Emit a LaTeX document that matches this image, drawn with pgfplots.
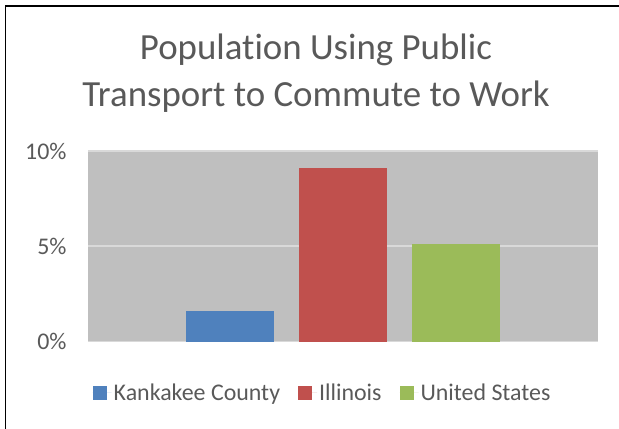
\documentclass[border=0pt]{standalone}
\usepackage{fontspec}
\setmainfont{Carlito}[RawFeature={-liga;-clig;-calt;-dlig}]
\usepackage{pgfplots}
\pgfplotsset{compat=1.18}

\definecolor{kblue}{HTML}{4F81BD}
\definecolor{ilred}{HTML}{C0504D}
\definecolor{usgreen}{HTML}{9BBB59}
\definecolor{plotbg}{HTML}{BFBFBF}
\definecolor{gridc}{HTML}{D9D9D9}
\definecolor{txt}{HTML}{595959}

\begin{document}
\begin{tikzpicture}
\useasboundingbox (0bp,0bp) rectangle (619bp,429bp);
% chart frame (only left and top edges fall inside the picture)
\draw[line width=1.5bp] (5.5bp,0bp) -- (5.5bp,423bp) -- (619bp,423bp);
\node[text=txt, font=\fontsize{37}{47}\selectfont, align=center] at (316bp,355.5bp)
  {Population Using Public\\Transport to Commute to Work};

\begin{axis}[
    at={(88bp,87.5bp)}, anchor=south west,
    width=510bp, height=190.5bp, scale only axis,
    xmin=-255, xmax=255,
    ymin=0, ymax=10,
    axis background/.style={fill=plotbg},
    axis line style={draw=none},
    xtick=\empty,
    ytick={0,5,10},
    /pgf/number format/assume math mode=true,
    yticklabel={\pgfmathprintnumber{\tick}\%},
    yticklabel style={text=txt, font=\fontsize{24}{28}\selectfont, xshift=-18bp},
    major tick length=0pt,
    ymajorgrids,
    grid style={gridc, line width=1.5bp},
    legend columns=3,
    legend style={at={(0.46,-0.268)}, anchor=center, draw=none, fill=none,
        font=\fontsize{24}{28}\selectfont, text=txt,
        /tikz/every even column/.append style={column sep=16bp}},
    legend image code/.code={\fill[#1] (0bp,-7bp) rectangle (14bp,7bp); \path (0bp,0bp) -- (19bp,0bp);},
]
\addplot[ybar, bar width=88, bar shift=0pt, fill=kblue, draw=none] coordinates {(-113,1.6)};
\addlegendentry{Kankakee County}
\addplot[ybar, bar width=88, bar shift=0pt, fill=ilred, draw=none] coordinates {(0,9.1)};
\addlegendentry{Illinois}
\addplot[ybar, bar width=88, bar shift=0pt, fill=usgreen, draw=none] coordinates {(113,5.1)};
\addlegendentry{United States}
\end{axis}
\end{tikzpicture}
\end{document}
